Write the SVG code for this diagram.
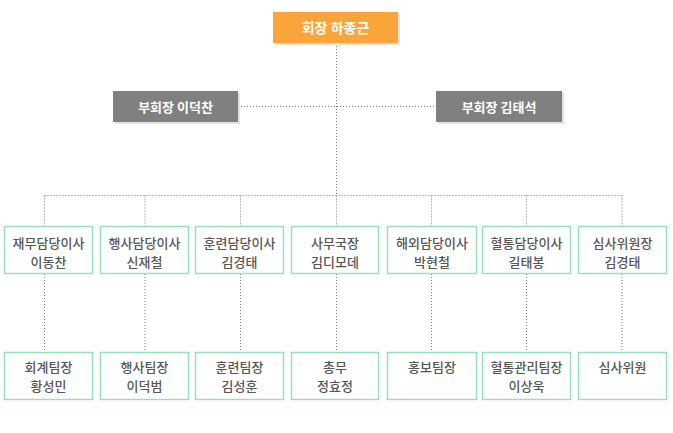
<svg xmlns="http://www.w3.org/2000/svg" width="673" height="433" viewBox="0 0 673 433">
<style>
.dot{stroke:#777;stroke-width:1;stroke-dasharray:1 2;fill:none}
.shadow{fill:#e2e2e2}
.box{fill:#fff;stroke:#9adfbd;stroke-width:1.5}
.t{font-family:"Noto Sans CJK KR","Noto Sans",sans-serif;font-size:13px;fill:#555;text-anchor:middle;font-weight:500}
.w{font-family:"Noto Sans CJK KR","Noto Sans",sans-serif;fill:#fff;text-anchor:middle;font-weight:700}
</style>
<rect width="673" height="433" fill="#fff"/>
<g id="connectors">
<path class="dot" d="M336.5 43V195.5M238 106.5H436M44.5 195.5H622.5M44.5 195.5V226M145 195.5V226M240.5 195.5V226M431.5 195.5V226M526.5 195.5V226M622 195.5V226M336.5 195.5V226"/>
<path class="dot" d="M44.5 274V352M145 274V352M240.5 274V352M336.5 274V352M431.5 274V352M526.5 274V352M622 274V352"/>
</g>
<g id="n-top">
<rect class="shadow" x="275" y="14" width="125" height="31"/>
<rect x="273" y="12" width="125" height="31" fill="#f9a53a"/>
<text class="w" x="335.5" y="33" font-size="14">회장 하종근</text>
</g>
<g id="n-vp1">
<rect class="shadow" x="115" y="93" width="125" height="31"/>
<rect x="113" y="91" width="125" height="31" fill="#808080"/>
<text class="w" x="175.5" y="111.5" font-size="13">부회장 이덕찬</text>
</g>
<g id="n-vp2">
<rect class="shadow" x="438" y="93" width="126" height="31"/>
<rect x="436" y="91" width="126" height="31" fill="#808080"/>
<text class="w" x="499" y="111.5" font-size="13">부회장 김태석</text>
</g>
<g id="n-d1"><rect class="box" x="4.5" y="226.5" width="88" height="47"/><text class="t" x="48.5" y="247.5">재무담당이사</text><text class="t" x="48.5" y="266.5">이동찬</text></g>
<g id="n-d2"><rect class="box" x="100.5" y="226.5" width="88" height="47"/><text class="t" x="144.5" y="247.5">행사담당이사</text><text class="t" x="144.5" y="266.5">신재철</text></g>
<g id="n-d3"><rect class="box" x="195.5" y="226.5" width="88" height="47"/><text class="t" x="239.5" y="247.5">훈련담당이사</text><text class="t" x="239.5" y="266.5">김경태</text></g>
<g id="n-d4"><rect class="box" x="291.5" y="226.5" width="87" height="47"/><text class="t" x="335" y="247.5">사무국장</text><text class="t" x="335" y="266.5">김디모데</text></g>
<g id="n-d5"><rect class="box" x="387.5" y="226.5" width="89" height="47"/><text class="t" x="432" y="247.5">해외담당이사</text><text class="t" x="432" y="266.5">박현철</text></g>
<g id="n-d6"><rect class="box" x="482.5" y="226.5" width="88" height="47"/><text class="t" x="526.5" y="247.5">혈통담당이사</text><text class="t" x="526.5" y="266.5">길태봉</text></g>
<g id="n-d7"><rect class="box" x="578.5" y="226.5" width="88" height="47"/><text class="t" x="622.5" y="247.5">심사위원장</text><text class="t" x="622.5" y="266.5">김경태</text></g>
<g id="n-s1"><rect class="box" x="4.5" y="352.5" width="88" height="47"/><text class="t" x="48.5" y="372">회계팀장</text><text class="t" x="48.5" y="390.5">황성민</text></g>
<g id="n-s2"><rect class="box" x="100.5" y="352.5" width="88" height="47"/><text class="t" x="144.5" y="372">행사팀장</text><text class="t" x="144.5" y="390.5">이덕범</text></g>
<g id="n-s3"><rect class="box" x="195.5" y="352.5" width="88" height="47"/><text class="t" x="239.5" y="372">훈련팀장</text><text class="t" x="239.5" y="390.5">김성훈</text></g>
<g id="n-s4"><rect class="box" x="291.5" y="352.5" width="87" height="47"/><text class="t" x="335" y="372">총무</text><text class="t" x="335" y="390.5">정효정</text></g>
<g id="n-s5"><rect class="box" x="387.5" y="352.5" width="89" height="47"/><text class="t" x="432" y="372">홍보팀장</text></g>
<g id="n-s6"><rect class="box" x="482.5" y="352.5" width="88" height="47"/><text class="t" x="526.5" y="372">혈통관리팀장</text><text class="t" x="526.5" y="390.5">이상욱</text></g>
<g id="n-s7"><rect class="box" x="578.5" y="352.5" width="88" height="47"/><text class="t" x="622.5" y="372">심사위원</text></g>
</svg>
